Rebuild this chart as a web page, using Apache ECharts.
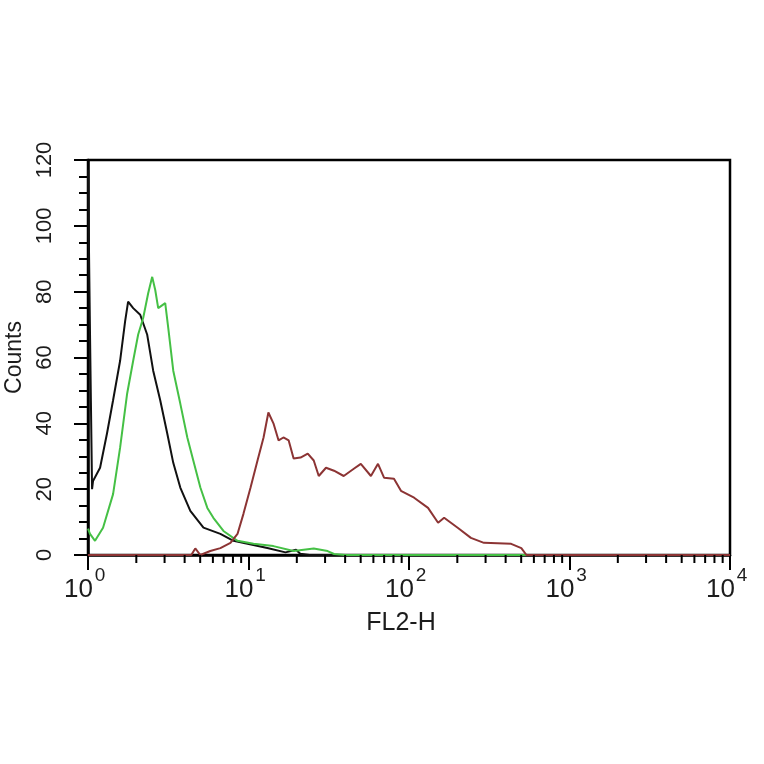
<!DOCTYPE html>
<html>
<head>
<meta charset="utf-8">
<script src="https://cdn.jsdelivr.net/npm/echarts@6/dist/echarts.min.js"></script>
<style>
html,body{margin:0;padding:0;background:#fff;}
#chart{width:764px;height:764px;}
</style>
</head>
<body>
<div id="chart"></div>
<script>
// ---- data ----
const blackX = [1.0, 1.025, 1.03, 1.055, 1.06, 1.075, 1.189, 1.314, 1.433, 1.585, 1.703, 1.778, 1.912, 2.115, 2.336, 2.548, 2.818, 3.115, 3.398, 3.758, 4.34, 5.24, 6.68, 8.06, 9.86, 13.1, 17.0, 19.8, 21.0, 24.0, 10000];
const blackY = [117, 117, 66, 66, 20, 22.5, 26.5, 37, 47, 59, 71, 77, 75, 73, 67, 56, 47, 37, 28, 20.5, 13.4, 8.3, 6.4, 4.3, 3.4, 2.1, 0.8, 1.6, 0.4, 0, 0];

const greenX = [1.0, 1.029, 1.106, 1.241, 1.433, 1.585, 1.753, 1.912, 2.054, 2.207, 2.371, 2.512, 2.624, 2.738, 3.028, 3.162, 3.398, 3.758, 4.157, 4.529, 5.012, 5.54, 6.04, 6.98, 8.54, 10.75, 14.3, 19.1, 25.5, 31.1, 34.1, 40, 10000];
const greenY = [8, 6.4, 4.3, 8.3, 18.5, 32.6, 49, 59, 67, 72, 79.5, 84.5, 80.5, 75, 76.5, 69, 56, 46, 35.7, 28.7, 20.5, 14.3, 11.3, 7.3, 4.3, 3.4, 2.7, 1.2, 2, 1.2, 0.3, 0, 0];

const redX = [1, 4.4, 4.66, 5.01, 5.78, 6.68, 7.72, 8.54, 9.30, 10.29, 11.38, 12.41, 13.3, 14.3, 15.4, 16.5, 17.8, 19.1, 21.1, 23.4, 25.5, 27.4, 30.4, 34.1, 39.2, 45.3, 50.1, 57.9, 64.1, 69.9, 80.6, 89.1, 107.6, 131.4, 151.8, 165.5, 202, 243, 293, 433, 501, 539, 10000];
const redY = [0, 0, 2.0, 0, 1.2, 2.1, 3.7, 6.4, 12.5, 20.4, 28.7, 35.7, 43.3, 40, 34.8, 35.7, 34.8, 29.3, 29.6, 30.8, 28.7, 24, 26.5, 25.6, 24, 26.2, 27.7, 24, 27.7, 23.5, 23.2, 19.5, 17.4, 14.3, 9.8, 11.3, 8.2, 5.2, 3.7, 3.4, 2.1, 0, 0];

const xTickValues = [1, 10, 100, 1000, 10000];
const xTickBase = ['10', '10', '10', '10', '10'];
const xTickExponents = ['0', '1', '2', '3', '4'];
const xMinorTicks = [2,3,4,5,6,7,8,9, 20,30,40,50,60,70,80,90, 200,300,400,500,600,700,800,900, 2000,3000,4000,5000,6000,7000,8000,9000];
const yTicks = {min: 0, max: 120, interval: 20};

const zip = (xs, ys) => xs.map((x, i) => [x, ys[i]]);
const tickIndex = v => xTickValues.findIndex(t => Math.abs(t - v) / t < 1e-6);
const FONT = 'Liberation Sans, Arial, Helvetica, sans-serif';
const TXT = '#1c1c1c';

const chart = echarts.init(document.getElementById('chart'));
chart.setOption({
  animation: false,
  backgroundColor: '#fff',
  grid: {left: 88, right: 34, top: 160, bottom: 209, show: true, borderColor: '#000', borderWidth: 2.5,
         backgroundColor: 'transparent', containLabel: false, outerBoundsMode: 'none'},
  xAxis: [{
    type: 'log', logBase: 10, min: 1, max: 10000, position: 'bottom',
    name: 'FL2-H', nameLocation: 'middle', nameGap: 56,
    nameTextStyle: {fontFamily: FONT, fontSize: 25, color: TXT, padding: [0, 16, 0, 0]},
    axisLine: {show: true, lineStyle: {color: '#000', width: 2.5}},
    axisTick: {show: true, length: 15, lineStyle: {color: '#000', width: 2}},
    splitLine: {show: false},
    axisLabel: {
      margin: 22, fontFamily: FONT, fontSize: 26, color: TXT, padding: [0, 19, 0, 0],
      formatter: v => { const i = tickIndex(v); return i >= 0 ? xTickBase[i] : ''; }
    }
  }, {
    type: 'log', logBase: 10, min: 1, max: 10000, position: 'bottom',
    axisLine: {show: false}, axisTick: {show: false}, splitLine: {show: false},
    axisLabel: {
      margin: 11, fontFamily: FONT, fontSize: 19, color: TXT, padding: [0, 0, 0, 24],
      formatter: v => { const i = tickIndex(v); return i >= 0 ? xTickExponents[i] : ''; }
    }
  }],
  yAxis: {
    type: 'value', min: yTicks.min, max: yTicks.max, interval: yTicks.interval,
    name: 'Counts', nameLocation: 'middle', nameGap: 55, nameRotate: 90,
    nameTextStyle: {fontFamily: FONT, fontSize: 23, color: TXT},
    axisLine: {show: true, lineStyle: {color: '#000', width: 2.5}},
    axisTick: {show: true, length: 14, lineStyle: {color: '#000', width: 2}},
    minorTick: {show: true, splitNumber: 4, length: 9, lineStyle: {color: '#000', width: 2}},
    splitLine: {show: false},
    minorSplitLine: {show: false},
    axisLabel: {rotate: 90, margin: 32, fontFamily: FONT, fontSize: 22, color: TXT}
  },
  series: [
    {type: 'line', name: 'black', xAxisIndex: 0, data: zip(blackX, blackY), showSymbol: false, symbol: 'none',
     lineStyle: {color: '#111', width: 2}, z: 3, silent: true},
    {type: 'line', name: 'green', xAxisIndex: 0, data: zip(greenX, greenY), showSymbol: false, symbol: 'none',
     lineStyle: {color: '#45c045', width: 2}, z: 4, silent: true},
    {type: 'line', name: 'red', xAxisIndex: 0, data: zip(redX, redY), showSymbol: false, symbol: 'none',
     lineStyle: {color: '#8c3434', width: 2}, z: 5, silent: true},
    {type: 'custom', name: 'minorTicks', xAxisIndex: 0, data: xMinorTicks.map(v => [v, 0]), clip: false, silent: true, z: 6,
     renderItem: function (params, api) {
       const p = api.coord([api.value(0), 0]);
       return {type: 'line', shape: {x1: p[0], y1: p[1], x2: p[0], y2: p[1] + 8},
               style: {stroke: '#000', lineWidth: 2}};
     }}
  ]
});
</script>
</body>
</html>
